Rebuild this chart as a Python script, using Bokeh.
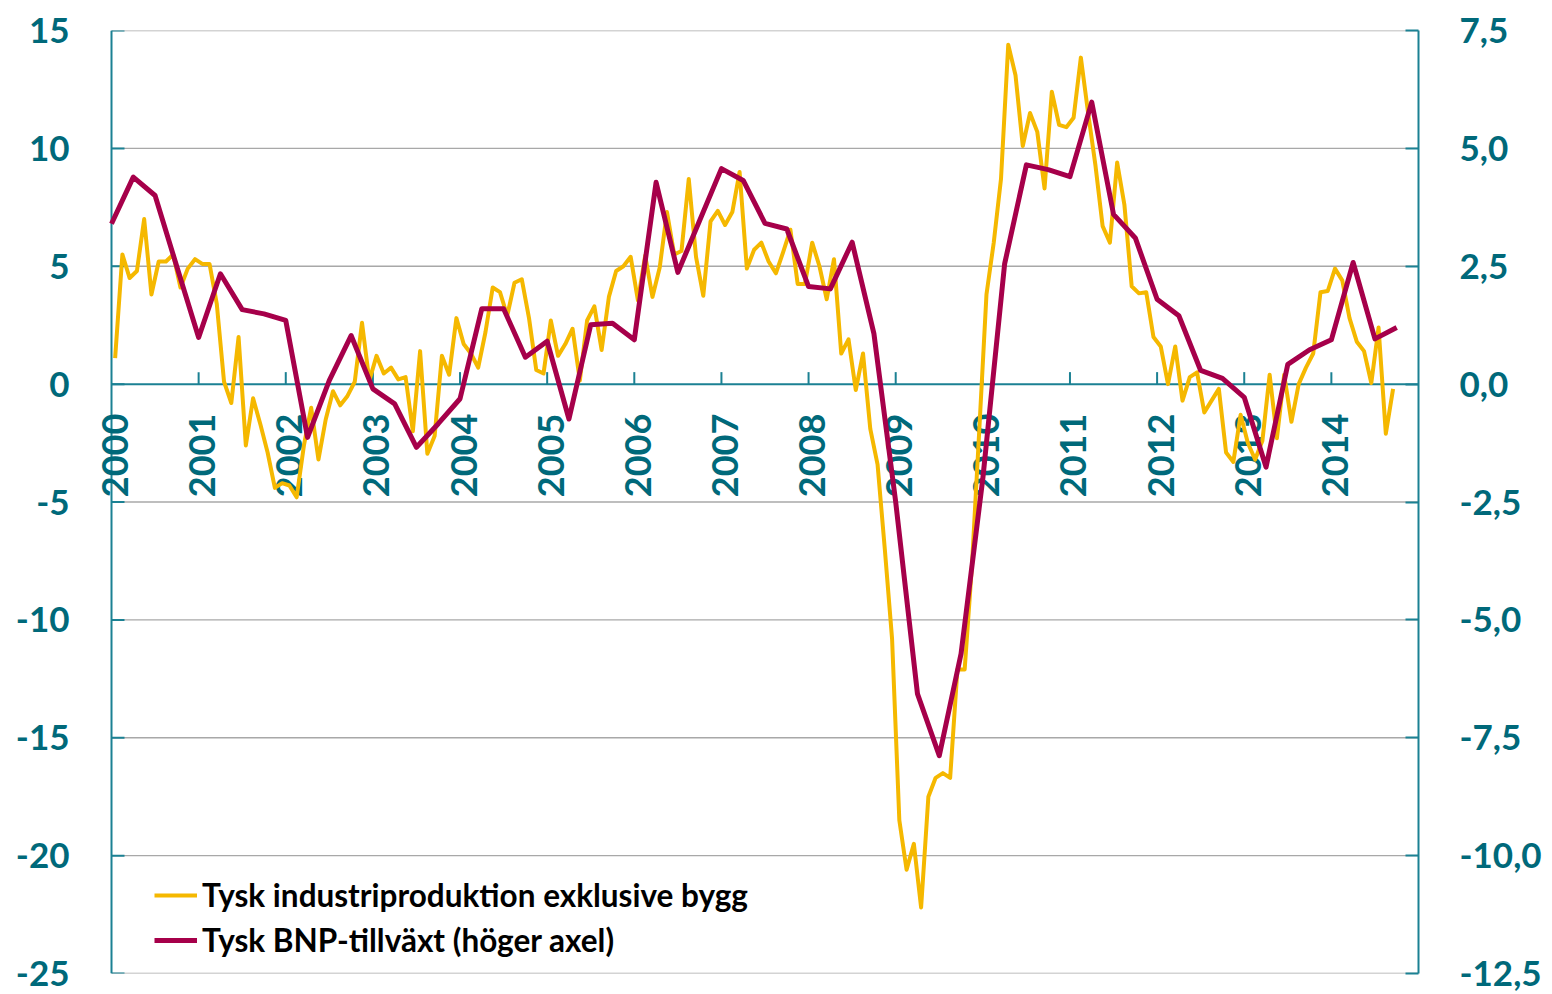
import numpy as np
from bokeh.plotting import figure
from bokeh.models import (Range1d, LinearAxis, FixedTicker, CustomJSTickFormatter,
                          Legend, LegendItem)
from bokeh.core.properties import value
from bokeh.embed import file_html
from bokeh.resources import INLINE

# ---------------- data ----------------
# Monthly industrial production (left axis), Jan 2000 .. Sep 2014
ip_2000 = [1.1, 5.5, 4.5, 4.8, 7.0, 3.8, 5.2, 5.2, 5.5, 4.1, 4.9, 5.3]
ip_2001 = [5.1, 5.1, 3.4, 0.1, -0.8, 2.0, -2.6, -0.6, -1.7, -2.9, -4.4, -4.2]
ip_2002 = [-4.3, -4.8, -2.6, -1.0, -3.2, -1.5, -0.3, -0.9, -0.5, 0.1, 2.6, 0.15]
ip_2003 = [1.2, 0.45, 0.7, 0.2, 0.3, -2.0, 1.4, -2.95, -2.2, 1.2, 0.4, 2.8]
ip_2004 = [1.7, 1.3, 0.7, 2.2, 4.1, 3.9, 2.9, 4.3, 4.45, 2.8, 0.6, 0.45]
ip_2005 = [2.7, 1.2, 1.7, 2.35, 0.15, 2.7, 3.3, 1.45, 3.7, 4.8, 5.0, 5.4]
ip_2006 = [3.55, 5.45, 3.7, 4.95, 7.3, 5.5, 5.65, 8.7, 5.4, 3.75, 6.9, 7.35]
ip_2007 = [6.75, 7.3, 9.0, 4.9, 5.7, 6.0, 5.2, 4.7, 5.6, 6.55, 4.25, 4.25]
ip_2008 = [6.0, 5.0, 3.6, 5.3, 1.3, 1.9, -0.25, 1.3, -1.9, -3.4, -7.0, -10.8]
ip_2009 = [-18.5, -20.6, -19.5, -22.2, -17.5, -16.7, -16.5, -16.7, -12.1, -12.1, -7.7, -2.0]
ip_2010 = [3.8, 6.0, 8.7, 14.4, 13.1, 10.1, 11.5, 10.7, 8.3, 12.4, 11.0, 10.9]
ip_2011 = [11.3, 13.85, 11.5, 9.3, 6.7, 6.0, 9.4, 7.6, 4.15, 3.85, 3.9, 2.0]
ip_2012 = [1.6, 0.0, 1.6, -0.7, 0.3, 0.5, -1.2, -0.7, -0.2, -2.9, -3.3, -1.3]
ip_2013 = [-2.5, -3.2, -2.4, 0.4, -2.3, 0.4, -1.6, 0.0, 0.7, 1.3, 3.9, 3.95]
ip_2014 = [4.9, 4.4, 2.8, 1.8, 1.4, 0.05, 2.4, -2.1, -0.2]

# Quarterly GDP growth (right axis)
gdp = [3.40, 4.39, 4.00, 2.49, 0.99, 2.34, 1.58, 1.49, 1.35, -1.13,
       0.08, 1.03, -0.10, -0.42, -1.34, -0.84, -0.31, 1.60, 1.60, 0.57,
       0.91, -0.74, 1.26, 1.29, 0.94, 4.28, 2.37, 3.47, 4.57, 4.32,
       3.41, 3.29, 2.07, 2.02, 3.01, 1.07, -2.50, -6.57, -7.88, -5.72,
       -2.00, 2.55, 4.65, 4.55, 4.40, 5.98, 3.60, 3.10, 1.80, 1.45,
       0.29, 0.12, -0.28, -1.76, 0.42, 0.73, 0.94, 2.58, 0.96, 1.20]

year_labels = [str(y) for y in range(2000, 2015)]
left_ticks = [-25, -20, -15, -10, -5, 0, 5, 10, 15]
right_ticks = [-12.5, -10, -7.5, -5, -2.5, 0, 2.5, 5, 7.5]
label_ip = "Tysk industriproduktion exklusive bygg"
label_gdp = "Tysk BNP-tillväxt (höger axel)"

# ---------------- derived ----------------
ip = (ip_2000 + ip_2001 + ip_2002 + ip_2003 + ip_2004 + ip_2005 + ip_2006
      + ip_2007 + ip_2008 + ip_2009 + ip_2010 + ip_2011 + ip_2012 + ip_2013 + ip_2014)
x_ip = 2000 + (np.arange(len(ip)) + 0.5) / 12.0
x_gdp = 2000 + np.arange(len(gdp)) / 4.0
years = np.array([int(y) for y in year_labels])
X0, X1 = years[0], years[-1] + 1          # 2000 .. 2015

TEAL_LINE = "#1B8193"
TEAL_TEXT = "#00697A"
YELLOW = "#F5B800"
RED = "#A6004A"
GRID = "#A8A8A8"
FONT = "Lato"

PX_YEAR = 87.12                 # horizontal pixels per year
PX_UNIT = 943 / 40.0            # vertical pixels per left-axis unit
LEFT_PAD = 11                   # frame starts a little left of the 2000 axis line

p = figure(width=1544, height=994, output_backend="svg", toolbar_location=None,
           x_range=Range1d(X0 - LEFT_PAD / PX_YEAR, X1), y_range=Range1d(-25, 15),
           x_axis_type=None, min_border_left=100, min_border_right=126,
           min_border_top=30, min_border_bottom=21)
p.outline_line_color = None
p.background_fill_color = "white"
p.border_fill_color = "white"
p.ygrid.visible = False

p.extra_y_ranges = {"r": Range1d(-12.5, 7.5)}


def style_labels(ax, standoff):
    ax.major_label_standoff = standoff
    ax.major_label_text_font = FONT
    ax.major_label_text_font_style = "bold"
    ax.major_label_text_font_size = "35px"
    ax.major_label_text_color = TEAL_TEXT
    ax.minor_tick_line_color = None


# left axis: labels only (line and ticks are drawn at x=2000 below)
ly = p.yaxis[0]
ly.ticker = FixedTicker(ticks=left_ticks, minor_ticks=[])
ly.formatter = CustomJSTickFormatter(code="return tick.toString();")
ly.axis_line_color = None
ly.major_tick_line_color = None
ly.major_tick_in = 0
ly.major_tick_out = 0
style_labels(ly, 31)

# right axis
ry_axis = LinearAxis(y_range_name="r", ticker=FixedTicker(ticks=right_ticks, minor_ticks=[]),
                     formatter=CustomJSTickFormatter(code="return tick.toFixed(1).replace('.', ',');"))
ry_axis.axis_line_color = TEAL_LINE
ry_axis.axis_line_width = 2
ry_axis.major_tick_line_color = TEAL_LINE
ry_axis.major_tick_line_width = 2
ry_axis.major_tick_in = 13
ry_axis.major_tick_out = 0
style_labels(ry_axis, 41)
p.add_layout(ry_axis, "right")

# gray gridlines between the axes
grid_ticks = [t for t in left_ticks if t != 0]
p.segment(x0=[X0] * len(grid_ticks), y0=grid_ticks, x1=[X1] * len(grid_ticks), y1=grid_ticks,
          line_color=GRID, line_width=1.3)

# teal zero line and year tick marks (12 px up)
p.segment(x0=[X0], y0=[0], x1=[X1], y1=[0], line_color=TEAL_LINE, line_width=2)
p.segment(x0=years[1:], y0=0, x1=years[1:], y1=12 / PX_UNIT,
          line_color=TEAL_LINE, line_width=2)

# left axis line and inward ticks at x = 2000
p.segment(x0=[X0], y0=[left_ticks[0]], x1=[X0], y1=[left_ticks[-1]],
          line_color=TEAL_LINE, line_width=2)
p.segment(x0=[X0] * len(left_ticks), y0=left_ticks,
          x1=[X0 + 13 / PX_YEAR] * len(left_ticks), y1=left_ticks,
          line_color=TEAL_LINE, line_width=2)

# year labels, rotated
p.text(x=years + 3.5 / PX_YEAR, y=[-29.5 / PX_UNIT] * len(years), text=year_labels,
       angle=np.pi / 2, text_align="right", text_baseline="middle",
       text_font=value(FONT), text_font_style="bold", text_font_size="36px",
       text_color=TEAL_TEXT)

r_ip = p.line(x_ip, ip, line_color=YELLOW, line_width=4, line_join="round")
r_gdp = p.line(x_gdp, gdp, line_color=RED, line_width=5, line_join="round", y_range_name="r")

legend = Legend(items=[LegendItem(label=label_ip, renderers=[r_ip]),
                       LegendItem(label=label_gdp, renderers=[r_gdp])],
                location=(54, 13), padding=0, margin=0, spacing=5,
                glyph_width=43, glyph_height=40, label_height=40, label_standoff=5,
                label_text_font=FONT, label_text_font_style="bold",
                label_text_font_size="31.5px", label_text_color="black",
                border_line_alpha=0, background_fill_alpha=0)
p.add_layout(legend)

open("out.html", "w").write(file_html(p, INLINE))
